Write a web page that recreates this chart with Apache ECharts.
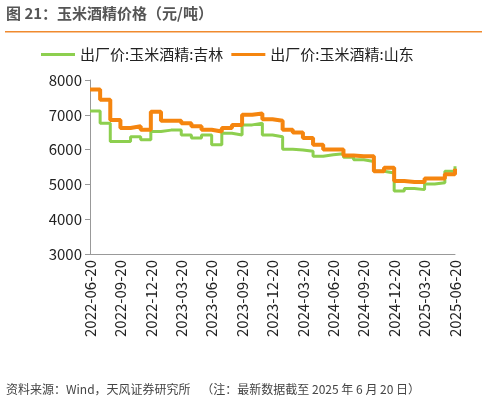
<!DOCTYPE html>
<html lang="en">
<head>
<meta charset="UTF-8">
<style>
    * { margin: 0; padding: 0; }
    html, body, #main { width: 100%; height: 100%; background: #fff; }
</style>
</head>
<body>
<div id="main"></div>
<script src="https://cdn.jsdelivr.net/npm/echarts@6/dist/echarts.min.js"></script>
<script>
    var myChart = echarts.init(document.getElementById('main'));

    // monthly points, 2022-06-20 .. 2025-06-20
    const dates = [];
    for (let y = 2022, m = 6; y * 12 + m <= 2025 * 12 + 6; m++) {
        if (m > 12) { m = 1; y++; }
        dates.push(y + '-' + String(m).padStart(2, '0') + '-20');
    }
    const jilin = [7110, 6755, 6230, 6230, 6370, 6280, 6520, 6560, 6560, 6420, 6330, 6420,
        6140, 6470, 6420, 6710, 6760, 6420, 6370, 6010, 5990, 5950, 5810, 5850,
        5880, 5780, 5710, 5660, 5380, 5330, 4810, 4880, 4850, 5010, 5050, 5380, 5520];
    const shandong = [7730, 7430, 6850, 6620, 6670, 6570, 7090, 6830, 6830, 6760, 6670, 6570,
        6520, 6620, 6710, 7000, 7040, 6870, 6830, 6570, 6490, 6330, 6140, 6000,
        6000, 5830, 5810, 5810, 5380, 5480, 5100, 5070, 5070, 5170, 5170, 5290, 5450];

    const font = "'Noto Sans CJK SC', sans-serif";
    option = {
        animation: false,
        graphic: [
            { type: 'text', left: 6, top: 6, style: { text: '图 21：玉米酒精价格（元/吨）', font: 'bold 15px ' + font, fill: '#555' } },
            { type: 'rect', shape: { x: 5, y: 31, width: 477, height: 1.5 }, style: { fill: '#F08A2E' } },
            { type: 'text', left: 6, top: 383, style: { text: '资料来源：Wind，天风证券研究所    （注：最新数据截至 2025 年 6 月 20 日）', font: '12px ' + font, fill: '#444' } }
        ],
        legend: {
            top: 42, left: 36, itemGap: 8, itemWidth: 34, itemHeight: 3,
            icon: 'rect',
            textStyle: { fontSize: 15, fontFamily: font, color: '#222' },
            data: ['出厂价:玉米酒精:吉林', '出厂价:玉米酒精:山东']
        },
        grid: { left: 90, right: 32, top: 80, bottom: 150 },
        xAxis: {
            type: 'category', data: dates, boundaryGap: false,
            axisLine: { lineStyle: { color: '#999' } },
            axisTick: { show: false },
            axisLabel: { interval: 2, rotate: 90, fontSize: 15, fontFamily: font, color: '#222', margin: 6 }
        },
        yAxis: {
            type: 'value', min: 3000, max: 8000, interval: 1000,
            splitLine: { show: false },
            axisLine: { show: true, lineStyle: { color: '#999' } },
            axisTick: { show: true, inside: false, length: 5, lineStyle: { color: '#999' } },
            axisLabel: { fontSize: 15, fontFamily: font, color: '#222', formatter: v => String(v) }
        },
        series: [
            { name: '出厂价:玉米酒精:吉林', type: 'line', step: 'end', data: jilin, symbol: 'none',
              lineStyle: { color: '#8DCF4F', width: 3 }, itemStyle: { color: '#8DCF4F' } },
            { name: '出厂价:玉米酒精:山东', type: 'line', step: 'end', data: shandong, symbol: 'none',
              lineStyle: { color: '#F5850F', width: 4 }, itemStyle: { color: '#F5850F' } }
        ]
    };
    myChart.setOption(option);
</script>
</body>
</html>
